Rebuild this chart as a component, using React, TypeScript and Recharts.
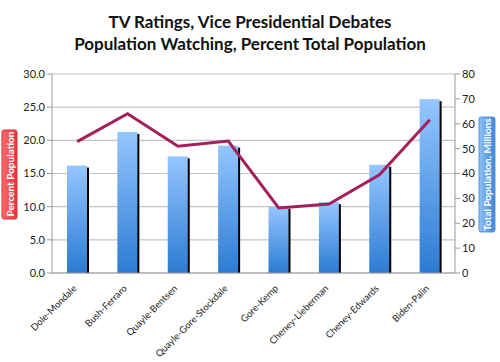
import React from "react";
import { Bar, CartesianGrid, ComposedChart, Line, XAxis, YAxis } from "recharts";

const debates = [
  "Dole-Mondale",
  "Bush-Ferraro",
  "Quayle-Bentsen",
  "Quayle-Gore-Stockdale",
  "Gore-Kemp",
  "Cheney-Lieberman",
  "Cheney-Edwards",
  "Biden-Palin",
];
// total viewers, millions (bars, right axis)
const viewersMillions = [43.2, 56.7, 46.9, 51.2, 26.6, 28.5, 43.5, 69.9];
// percent of total population watching (line, left axis)
const percentWatching = [19.8, 24.0, 19.1, 19.9, 9.8, 10.4, 14.8, 23.1];
const leftTicks = [0, 5, 10, 15, 20, 25, 30];
const rightTicks = [0, 10, 20, 30, 40, 50, 60, 70, 80];

const data = debates.map((name, i) => ({
  name,
  viewers: viewersMillions[i],
  percent: percentWatching[i],
}));

const FONT = "Lato, 'Open Sans', sans-serif";

function ShadowBar(props: any) {
  const { x, y, width, height } = props;
  if (!height || height <= 0) return null;
  return (
    <g>
      <rect x={x + width - 1} y={y + 2} width={3} height={height - 2} fill="#000" />
      <rect x={x} y={y} width={width} height={height} fill="url(#barGrad)" />
    </g>
  );
}

function CategoryTick(props: any) {
  const { x, y, payload } = props;
  return (
    <text
      x={x}
      y={y + 8}
      transform={`rotate(-45, ${x}, ${y + 8})`}
      textAnchor="end"
      fontSize={9.5}
      fontFamily={FONT}
      fill="#222"
    >
      {payload.value}
    </text>
  );
}

export default function App() {
  return (
    <div style={{ position: "absolute", left: 0, top: 0, width: 500, height: 362, background: "#fff" }}>
      <ComposedChart
        width={500}
        height={362}
        data={data}
        margin={{ top: 74, right: 0, bottom: 0, left: 0 }}
      >
        <defs>
          <linearGradient id="barGrad" x1="0" y1="0" x2="0" y2="1">
            <stop offset="0%" stopColor="#95c6ff" />
            <stop offset="100%" stopColor="#2c7bd3" />
          </linearGradient>
        </defs>
        <CartesianGrid yAxisId="left" vertical={false} stroke="#c4c4c4" strokeWidth={1.2} />
        <XAxis
          dataKey="name"
          height={89}
          interval={0}
          tick={<CategoryTick />}
          tickLine={false}
          axisLine={{ stroke: "#999" }}
        />
        <YAxis
          yAxisId="left"
          width={52}
          domain={[0, 30]}
          ticks={leftTicks}
          tickFormatter={(v: number) => v.toFixed(1)}
          tick={{ fontSize: 11, fill: "#222", fontFamily: FONT }}
          tickSize={5}
          tickLine={{ stroke: "#999" }}
          axisLine={{ stroke: "#999" }}
        />
        <YAxis
          yAxisId="right"
          orientation="right"
          width={45}
          domain={[0, 80]}
          ticks={rightTicks}
          tick={{ fontSize: 11, fill: "#222", fontFamily: FONT }}
          tickSize={5}
          tickLine={{ stroke: "#999" }}
          axisLine={{ stroke: "#999" }}
        />
        <Bar
          yAxisId="right"
          dataKey="viewers"
          barSize={20}
          shape={<ShadowBar />}
          isAnimationActive={false}
        />
        <Line
          yAxisId="left"
          dataKey="percent"
          type="linear"
          stroke="#a3205c"
          strokeWidth={3}
          dot={false}
          activeDot={false}
          isAnimationActive={false}
        />
      </ComposedChart>
      <svg
        width={500}
        height={362}
        style={{ position: "absolute", left: 0, top: 0, pointerEvents: "none" }}
      >
        <defs>
          <linearGradient id="redBox" x1="0" y1="0" x2="1" y2="0">
            <stop offset="0%" stopColor="#ff6b6b" />
            <stop offset="100%" stopColor="#e23440" />
          </linearGradient>
          <linearGradient id="blueBox" x1="0" y1="0" x2="1" y2="0">
            <stop offset="0%" stopColor="#8fc0f5" />
            <stop offset="100%" stopColor="#3f86d6" />
          </linearGradient>
        </defs>
        <text x={250} y={28} textAnchor="middle" fontSize={17} fontWeight="bold" fontFamily={FONT} fill="#111">
          TV Ratings, Vice Presidential Debates
        </text>
        <text x={250} y={50} textAnchor="middle" fontSize={17} fontWeight="bold" fontFamily={FONT} fill="#111">
          Population Watching, Percent Total Population
        </text>
        <rect x={2} y={130} width={15} height={89} rx={2} fill="url(#redBox)" stroke="#d33" />
        <text
          x={13.5}
          y={174}
          transform="rotate(-90, 13.5, 174)"
          textAnchor="middle"
          fontSize={10}
          fontWeight="bold"
          fontFamily={FONT}
          fill="#fff"
        >
          Percent Population
        </text>
        <rect x={479} y={117} width={16} height={115} rx={2} fill="url(#blueBox)" stroke="#5b95d8" />
        <text
          x={491}
          y={174.5}
          transform="rotate(-90, 491, 174.5)"
          textAnchor="middle"
          fontSize={10}
          fontWeight="bold"
          fontFamily={FONT}
          fill="#fff"
        >
          Total Population, Millions
        </text>
      </svg>
    </div>
  );
}
